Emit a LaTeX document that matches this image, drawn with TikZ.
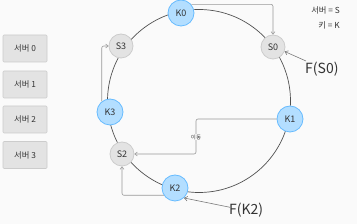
\documentclass[tikz,border=0pt]{standalone}
\usepackage{fontspec}
\setmainfont{Noto Sans CJK KR}
\usetikzlibrary{arrows.meta,calc}
\definecolor{bgc}{HTML}{FAFAFA}
\definecolor{kfill}{HTML}{B3DEFF}
\definecolor{kdraw}{HTML}{66BBFF}
\definecolor{sfill}{HTML}{E3E3E3}
\definecolor{sdraw}{HTML}{CCCCCC}
\definecolor{ringc}{HTML}{505050}
\definecolor{arrc}{HTML}{999999}
\definecolor{txt}{HTML}{333333}
\begin{document}
\begin{tikzpicture}[x=1pt,y=-1pt,
  keynode/.style={circle,fill=kfill,draw=kdraw,line width=0.8pt,minimum size=26pt,inner sep=0pt,font=\fontsize{9}{10}\selectfont,text=txt},
  srvnode/.style={circle,fill=sfill,draw=sdraw,line width=0.8pt,minimum size=24pt,inner sep=0pt,font=\fontsize{9}{10}\selectfont,text=txt},
  srvbox/.style={rectangle,rounded corners=1pt,fill=sfill,draw=sdraw,line width=0.6pt,minimum width=44pt,minimum height=27pt,inner sep=0pt,font=\fontsize{8.3}{10}\selectfont,text=txt},
  arr/.style={draw=arrc,line width=0.6pt,rounded corners=2pt,-{Straight Barb[length=2.5pt,width=4pt]}},
  bigarr/.style={draw=arrc!80!black,line width=0.6pt,-{Straight Barb[length=3pt,width=4.5pt]}},
  lbl/.style={fill=bgc,inner sep=1pt,font=\fontsize{5.5}{6}\selectfont,text=txt},
  legend/.style={anchor=east,inner sep=0pt,font=\fontsize{8.3}{10}\selectfont,text=txt},
  flabel/.style={inner sep=1pt,font=\fontsize{14}{16}\selectfont,text=txt}
]
\fill[bgc] (0,0) rectangle (357,224);
\useasboundingbox (0,0) rectangle (357,224);

% ring
\draw[ringc,line width=0.7pt] (199,101) circle[radius=91.5];

% nodes on ring
\node[keynode] (K0) at (181,13) {K0};
\node[srvnode] (S0) at (273,47) {S0};
\node[keynode] (K1) at (290,119) {K1};
\node[keynode] (K2) at (175,188) {K2};
\node[srvnode] (S2) at (122,154) {S2};
\node[keynode] (K3) at (110,112) {K3};
\node[srvnode] (S3) at (121,46) {S3};

% server boxes
\node[srvbox] (B0) at (25,48.5) {서버 0};
\node[srvbox] (B1) at (25,84.5) {서버 1};
\node[srvbox] (B2) at (25,119.5) {서버 2};
\node[srvbox] (B3) at (25,155) {서버 3};

% legend
\node[legend] (L1) at (340,10) {서버 = S};
\node[legend] (L2) at (340,25) {키 = K};

% assignment arrows
\draw[arr] (K0.40) -| (S0.north);
\coordinate (turn) at (196,137);
\draw[arr] (K1.west) -| (turn) |- (S2.east);
\node[lbl] (mv) at (turn) {이동};
\draw[arr] (K2.213) -| (S2.south);
\draw[arr] (K3.128) |- (S3.west);

% function labels
\node[flabel,anchor=north west] (FS0) at (304,61) {F(S0)};
\node[flabel,anchor=north west] (FK2) at (228,202) {F(K2)};
\draw[bigarr] ($(FS0.north west)+(2,0)$) -- (S0.-21);
\draw[bigarr] ($(FK2.west)+(2,-3)$) -- (K2.-48);
\end{tikzpicture}
\end{document}
